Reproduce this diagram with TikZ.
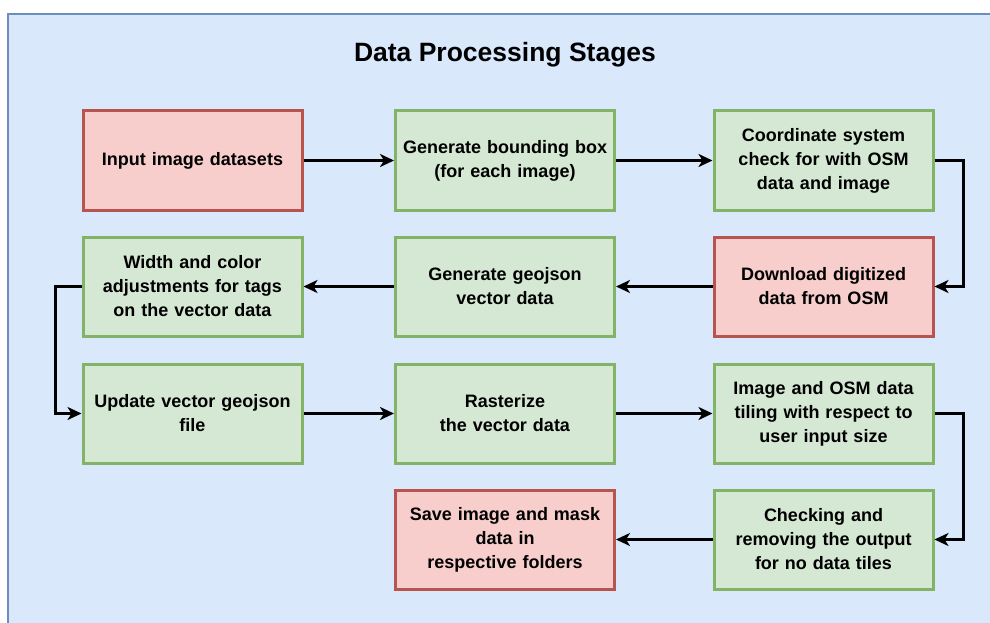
\documentclass[tikz,border=0pt]{standalone}
\usepackage{fontspec}
\setmainfont{Liberation Sans}
\usetikzlibrary{arrows.meta}
\definecolor{bgfill}{HTML}{DAE8FC}
\definecolor{bgline}{HTML}{6C8EBF}
\definecolor{redfill}{HTML}{F8CECC}
\definecolor{redline}{HTML}{B85450}
\definecolor{greenfill}{HTML}{D5E8D4}
\definecolor{greenline}{HTML}{82B366}
\begin{document}
\begin{tikzpicture}[x=1pt,y=-1pt,
    stage/.style={draw,line width=3pt,minimum width=219pt,minimum height=99pt,
        text width=218pt,inner xsep=0pt,align=center,font=\bfseries\fontsize{18}{24}\selectfont},
    redstage/.style={stage,draw=redline,fill=redfill},
    greenstage/.style={stage,draw=greenline,fill=greenfill},
    flow/.style={line width=2.5pt,-{Stealth[length=14pt,width=13pt,inset=4pt]}}]
                \useasboundingbox (0,0) rectangle (990,623);
                \clip (0,0) rectangle (990,623);
                \draw[bgline,fill=bgfill,line width=1.5pt] (8,14) rectangle (1000,640);
                \node (title) at (505,55) {\bfseries\fontsize{26.5}{30}\selectfont Data Processing Stages};
                % first row
                \node[redstage] (input) at (192.5,160.5) {Input image datasets};
                \node[greenstage] (bbox) at (505,160.5) {Generate bounding box\\(for each image)};
                \node[greenstage] (crs) at (823.5,160.5) {Coordinate system\\check for with OSM\\data and image};
                % second row
                \node[redstage] (download) at (823.5,286.5) {Download digitized\\data from OSM};
                \node[greenstage] (geojson) at (505,286.5) {Generate geojson\\vector data};
                \node[greenstage] (adjust) at (192.5,286.5) {Width and color\\adjustments for tags\\on the vector data};
                % third row
                \node[greenstage] (update) at (192.5,413.5) {Update vector geojson\\file};
                \node[greenstage] (raster) at (505,413.5) {Rasterize\\the vector data};
                \node[greenstage] (tiling) at (823.5,413.5) {Image and OSM data\\tiling with respect to\\user input size};
                % last row
                \node[greenstage] (check) at (823.5,539.5) {Checking and\\removing the output\\for no data tiles};
                \node[redstage] (save) at (505,539.5) {Save image and mask\\data in\\respective folders};
                % connectors
                \draw[flow] (input) -- (bbox);
                \draw[flow] (bbox) -- (crs);
                \draw[flow] (crs.east) -- ++(29,0) |- (download.east);
                \draw[flow] (download) -- (geojson);
                \draw[flow] (geojson) -- (adjust);
                \draw[flow] (adjust.west) -- ++(-26,0) |- (update.west);
                \draw[flow] (update) -- (raster);
                \draw[flow] (raster) -- (tiling);
                \draw[flow] (tiling.east) -- ++(29,0) |- (check.east);
                \draw[flow] (check) -- (save);
            \end{tikzpicture}
\end{document}
